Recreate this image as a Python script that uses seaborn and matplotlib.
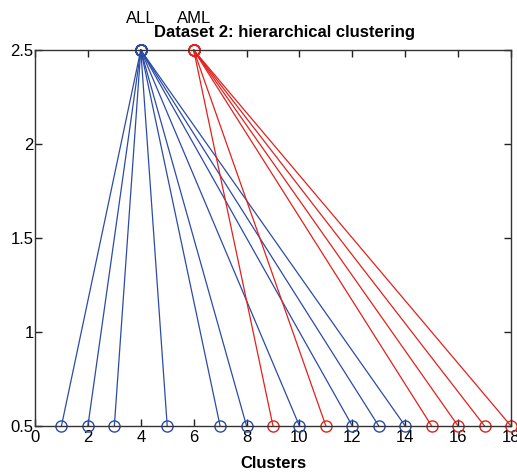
import matplotlib
matplotlib.use("Agg")
import matplotlib.pyplot as plt
import matplotlib.transforms as mtransforms
import seaborn as sns
import pandas as pd

all_clusters = [1, 2, 3, 5, 7, 8, 10, 12, 13, 14]
aml_clusters = [9, 11, 15, 16, 17, 18]
all_node_x = 4
aml_node_x = 6
top_y = 2.5
bottom_y = 0.5
x_ticks = [0, 2, 4, 6, 8, 10, 12, 14, 16, 18]
y_ticks = [0.5, 1, 1.5, 2, 2.5]
y_tick_labels = ["0.5", "1", "1.5", "2", "2.5"]
node_labels = ["ALL", "AML"]

blue = "#2B4BA6"
red = "#E3201C"

sns.set_theme(style="white")
plt.rcParams['font.family'] = ['Liberation Sans', 'DejaVu Sans']
plt.rcParams['text.color'] = 'black'
plt.rcParams['axes.labelcolor'] = 'black'

fig = plt.figure(figsize=(5.17, 4.74), dpi=100)
ax = fig.add_axes([35/517, 1-426/474, 476/517, 376/474])

rows = []
for i, c in enumerate(all_clusters):
    rows.append(dict(seg=f"b{i}", x=all_node_x, y=top_y, grp="ALL"))
    rows.append(dict(seg=f"b{i}", x=c, y=bottom_y, grp="ALL"))
for i, c in enumerate(aml_clusters):
    rows.append(dict(seg=f"r{i}", x=aml_node_x, y=top_y, grp="AML"))
    rows.append(dict(seg=f"r{i}", x=c, y=bottom_y, grp="AML"))
df = pd.DataFrame(rows)

for seg, sub in df.groupby("seg", sort=False):
    col = blue if sub["grp"].iloc[0] == "ALL" else red
    sns.lineplot(data=sub, x="x", y="y", ax=ax, color=col, lw=0.9,
                 marker="o", markersize=8, markerfacecolor="none",
                 markeredgecolor=col, markeredgewidth=1.0,
                 sort=False, estimator=None, legend=False, clip_on=False)

ax.set_xlim(0, 18)
ax.set_ylim(0.5, 2.5)
ax.set_xticks(x_ticks)
ax.set_yticks(y_ticks)
ax.set_xticklabels([str(t) for t in x_ticks])
ax.set_yticklabels(y_tick_labels)
ax.tick_params(direction="in", length=5, width=1, colors="#222222",
               labelsize=12, labelcolor="black", top=True, right=True,
               bottom=True, left=True, pad=1)
ax.tick_params(axis="x", pad=3)
for s in ax.spines.values():
    s.set_color("#333333")
    s.set_linewidth(1.0)
ax.set_xlabel("Clusters", fontsize=12, fontweight="bold", labelpad=8, color="black")
ax.set_ylabel("")

fig.text(284/517, 1-33/474, "Dataset 2: hierarchical clustering", ha="center",
         va="center", fontsize=12, fontweight="bold", color="black")
offset = ax.transData + mtransforms.ScaledTranslation(0, 24/100, fig.dpi_scale_trans)
for lbl, nx in zip(node_labels, [all_node_x, aml_node_x]):
    ax.text(nx, top_y, lbl, ha="center", va="bottom", fontsize=12,
            color="black", transform=offset)

fig.savefig("out.png", dpi=100)
